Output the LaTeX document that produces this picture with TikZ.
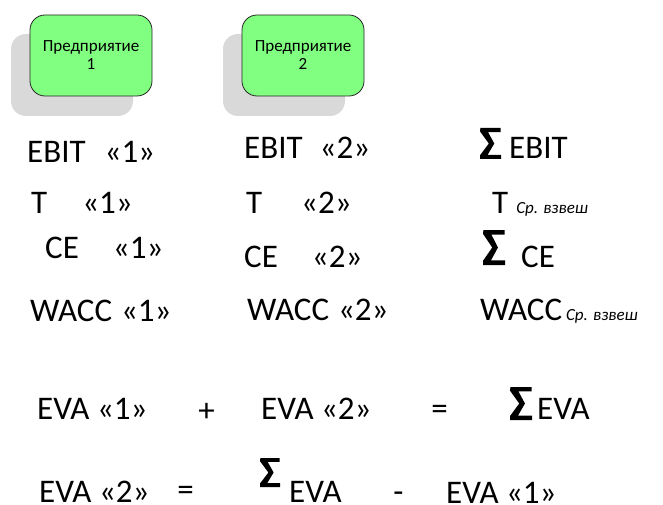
\documentclass[tikz,border=0pt]{standalone}
\usepackage{fontspec}
\setmainfont{Carlito}
\definecolor{boxgreen}{HTML}{80FF80}
\definecolor{shadowgray}{HTML}{D9D9D9}
\newcommand{\subtxt}[1]{{\fontsize{17}{20}\selectfont\itshape #1}}
\begin{document}
\begin{tikzpicture}[x=1pt,y=-1pt,
  txt/.style={font=\fontsize{33}{38}\selectfont, inner sep=0pt, anchor=base west},
  sym/.style={font=\fontsize{33}{38}\selectfont, inner sep=0pt, anchor=center},
  firm/.style={draw=black!85, line width=0.8pt, fill=boxgreen, rounded corners=15pt,
    minimum width=122pt, minimum height=81pt, align=center, inner sep=0pt,
    font=\fontsize{17}{18}\selectfont},
  shadowbox/.style={fill=shadowgray, rounded corners=15pt},
  sig/.pic={\fill[black] (0.02,-1) -- (0.98,-1) -- (0.98,-0.87) -- (0.38,-0.87)
      -- (0.68,-0.5) -- (0.36,-0.13) -- (1,-0.13) -- (1,0) -- (0,0)
      -- (0,-0.12) -- (0.42,-0.5) -- (0,-0.89) -- cycle;}
]
\useasboundingbox (0,0) rectangle (663,505);
\fill[white] (0,0) rectangle (663,505);

% enterprises
\fill[shadowbox] (11,34) rectangle (133,116);
\node[firm] (f1) at (91,55.5) {Предприятие\\1};
\fill[shadowbox] (223,34) rectangle (345,116);
\node[firm] (f2) at (303,55.5) {Предприятие\\2};

% column 1
\node[txt] (ebit1) at (27,163) {EBIT\hspace{19pt}«1»};
\node[txt] (t1) at (31,213) {T\hspace{35pt}«1»};
\node[txt] (ce1) at (45,258) {CE\hspace{34pt}«1»};
\node[txt] (wacc1) at (30,321) {WACC\hspace{9pt}«1»};

% column 2
\node[txt] (ebit2) at (244,159) {EBIT\hspace{17pt}«2»};
\node[txt] (t2) at (246,213) {T\hspace{39pt}«2»};
\node[txt] (ce2) at (244,267) {CE\hspace{34pt}«2»};
\node[txt] (wacc2) at (247,320) {WACC\hspace{9pt}«2»};

% column 3
\pic[xscale=21,yscale=31] (s1) at (480,159) {sig};
\node[txt] (ebit3) at (509,159) {EBIT};
\node[txt] (t3) at (492,213) {T\hspace{8pt}\subtxt{Ср. взвеш}};
\pic[xscale=22,yscale=35] (s2) at (483,265) {sig};
\node[txt] (ce3) at (521,267) {CE};
\node[txt] (wacc3) at (480,320) {WACC\hspace{4pt}\subtxt{Ср. взвеш}};

% row 5
\node[txt] (eva1a) at (37,419) {EVA «1»};
\node[sym] (plus) at (206.5,412) {+};
\node[txt] (eva2a) at (261,419) {EVA «2»};
\node[sym] (eqa) at (439.5,412) {=};
\pic[xscale=22,yscale=33] (s3) at (510,420) {sig};
\node[txt] (evas) at (537,419) {EVA};

% row 6
\node[txt] (eva2b) at (39,502) {EVA «2»};
\node[sym] (eqb) at (185.5,493) {=};
\pic[xscale=20,yscale=29] (s4) at (260,487) {sig};
\node[txt] (evat) at (289,502) {EVA};
\node[sym] (minus) at (398.5,497) {-};
\node[txt] (eva1b) at (446,503) {EVA «1»};
\end{tikzpicture}
\end{document}
